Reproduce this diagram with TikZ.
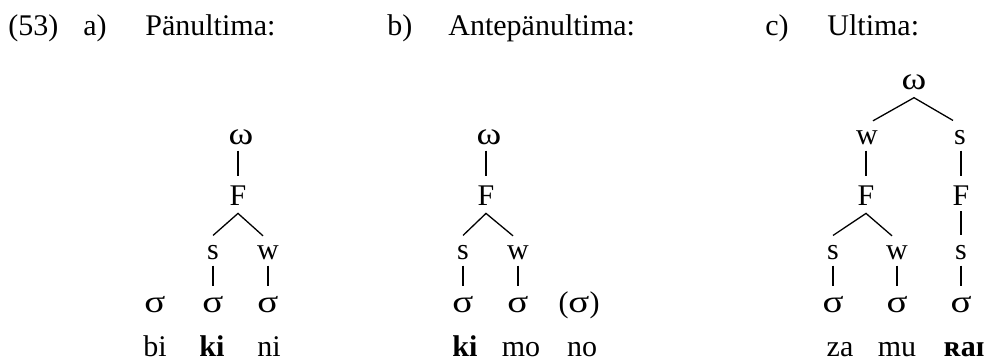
\documentclass[tikz,border=0pt]{standalone}
\usepackage{fontspec}
\setmainfont{Liberation Serif}
\usepackage{graphicx}
\usepackage{tikz}
\usetikzlibrary{calc}
\newcommand{\syl}{\scalebox{1.3}[1.05]{σ}}
\newcommand{\wrd}{\scalebox{1.25}[1.05]{ω}}

\begin{document}
\begin{tikzpicture}[x=0.5pt,y=-0.5pt,
    font=\fontsize{15pt}{18pt}\selectfont,
    every node/.style={inner sep=0pt,anchor=base},
    stem/.style={line width=0.65pt,shorten <=2.5pt,shorten >=5pt},
    arm/.style={line width=0.65pt}]
				\useasboundingbox (0,0) rectangle (984,362);
				% headings
				\node[anchor=base west] (num) at (8,36) {(53)};
				\node[anchor=base west] (la) at (83,36) {a)};
				\node[anchor=base west] (ha) at (145,36) {Pänultima:};
				\node[anchor=base west] (lb) at (387,36) {b)};
				\node[anchor=base west] (hb) at (448,36) {Antepänultima:};
				\node[anchor=base west] (lc) at (765,36) {c)};
				\node[anchor=base west] (hc) at (827,36) {Ultima:};
				% a) penultimate
				\node (aOm) at (241,145) {\wrd};
				\node (aF) at (238,206) {F};
				\node (aS) at (213,260) {s};
				\node (aW) at (268,260) {w};
				\node (aX) at (155,313) {\syl};
				\node (aY) at (213,313) {\syl};
				\node (aZ) at (268,313) {\syl};
				\node (aT1) at (155,357) {bi};
				\node (aT2) at (212,357) {\textbf{ki}};
				\node (aT3) at (269,357) {ni};
				\draw[stem] (aF.north |- aOm.south) -- (aF.north);
				\draw[arm] ([yshift=5pt]aS.north) -- ([yshift=-3.5pt]aF.south) -- ([xshift=-2.5pt,yshift=5pt]aW.north);
				\draw[stem] (aY.north |- aS.south) -- (aY.north);
				\draw[stem] (aZ.north |- aW.south) -- (aZ.north);
				% b) antepenultimate
				\node (bOm) at (489,145) {\wrd};
				\node (bF) at (486,206) {F};
				\node (bS) at (463,260) {s};
				\node (bW) at (518,260) {w};
				\node (bX) at (463,313) {\syl};
				\node (bY) at (518,313) {\syl};
				\node (bZ) at (579,313) {(\syl)};
				\node (bT1) at (465,357) {\textbf{ki}};
				\node (bT2) at (521,357) {mo};
				\node (bT3) at (582,357) {no};
				\draw[stem] (bF.north |- bOm.south) -- (bF.north);
				\draw[arm] ([yshift=5pt]bS.north) -- ([yshift=-3.5pt]bF.south) -- ([xshift=-2.5pt,yshift=5pt]bW.north);
				\draw[stem] (bX.north |- bS.south) -- (bX.north);
				\draw[stem] (bY.north |- bW.south) -- (bY.north);
				% c) ultimate
				\node (cOm) at (914,90) {\wrd};
				\node (cW) at (867,145) {w};
				\node (cS) at (960,145) {s};
				\node (cF1) at (866,206) {F};
				\node (cF2) at (961,206) {F};
				\node (cS1) at (833,260) {s};
				\node (cW1) at (897,260) {w};
				\node (cS2) at (961,260) {s};
				\node (cX) at (833,313) {\syl};
				\node (cY) at (897,313) {\syl};
				\node (cZ) at (961,313) {\syl};
				\node (cT1) at (840,357) {za};
				\node (cT2) at (897,357) {mu};
				\node (cT3) at (964,357) {\textbf{ʀaɪ}};
				\draw[arm] ([xshift=3pt,yshift=5pt]cW.north) -- ([yshift=-3.5pt]cOm.south) -- ([xshift=-3.5pt,yshift=5pt]cS.north);
				\draw[stem] (cF1.north |- cW.south) -- (cF1.north);
				\draw[stem] (cF2.north |- cS.south) -- (cF2.north);
				\draw[arm] ([yshift=5pt]cS1.north) -- ([yshift=-3.5pt]cF1.south) -- ([xshift=-2.5pt,yshift=5pt]cW1.north);
				\draw[stem] (cS2.north |- cF2.south) -- (cS2.north);
				\draw[stem] (cX.north |- cS1.south) -- (cX.north);
				\draw[stem] (cY.north |- cW1.south) -- (cY.north);
				\draw[stem] (cZ.north |- cS2.south) -- (cZ.north);
			\end{tikzpicture}
\end{document}
